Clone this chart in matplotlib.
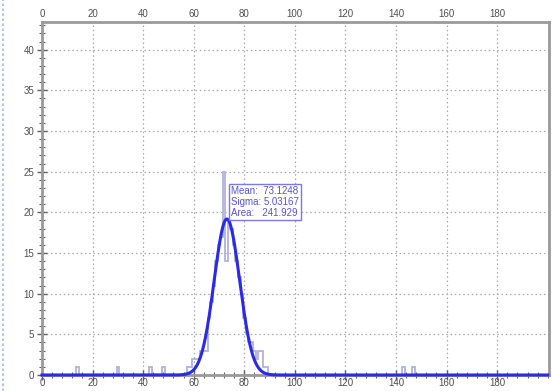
import numpy as np
import matplotlib
matplotlib.use("Agg")
import matplotlib.pyplot as plt
from matplotlib.ticker import MultipleLocator
from matplotlib.lines import Line2D

plt.rcParams['font.family'] = ['Liberation Sans', 'DejaVu Sans']

# Histogram (bin width 1, centred on integers) – non-empty bins
bin_centers = [14, 30, 43, 48, 58, 59, 60, 61, 62, 63, 64, 65, 66, 67, 68, 69, 70, 71,
               72, 73, 74, 75, 76, 77, 78, 79, 80, 81, 82, 83, 84, 85, 86, 87, 88, 89,
               143, 147]
bin_counts = [1, 1, 1, 1, 1, 1, 2, 2, 2, 3, 3, 3, 7, 9, 11, 14, 16, 17,
              25, 14, 19, 18, 16, 14, 12, 10, 7, 5, 4, 4, 3, 2, 3, 3, 1, 1,
              1, 1]

# Gaussian fit parameters
fit_mean = 73.1248
fit_sigma = 5.03167
fit_area = 241.929

x_ticks = [0, 20, 40, 60, 80, 100, 120, 140, 160, 180]
y_ticks = [0, 5, 10, 15, 20, 25, 30, 35, 40]

fig = plt.figure(figsize=(5.52, 3.91), dpi=100)
ax = fig.add_axes([42/552, 1-375/391, (549-42)/552, (375-22)/391])

edges = np.arange(-0.5, 201.5, 1.0)
counts = np.zeros(len(edges) - 1)
for c, n in zip(bin_centers, bin_counts):
    counts[int(c)] = n
ax.stairs(counts, edges, color='#b2b2d8', lw=1.3, zorder=2)

xs = np.linspace(0, 200, 3000)
amp = fit_area / (fit_sigma * np.sqrt(2 * np.pi))
ys = amp * np.exp(-0.5 * ((xs - fit_mean) / fit_sigma) ** 2)
ax.plot(xs, ys, color='#2a2ae8', lw=2.2, zorder=3, clip_on=False)

ax.text(74.8, 23.2, "Mean:  73.1248\nSigma: 5.03167\nArea:   241.929",
        fontsize=7, color='#5555cc', va='top', ha='left', linespacing=1.1,
        bbox=dict(boxstyle='square,pad=0.2', fc='white', ec='#7a7ae0', lw=1.0),
        zorder=4)

ax.set_xlim(0, 200.5)
ax.set_ylim(0, 43.4)
ax.set_xticks(x_ticks)
ax.set_yticks(y_ticks)
ax.xaxis.set_minor_locator(MultipleLocator(4))
ax.yaxis.set_minor_locator(MultipleLocator(1))

ax.grid(True, which='major', ls=(0, (1.2, 2.2)), color='#a8a8a8', lw=0.9)
for s in ax.spines.values():
    s.set_color('#9a9a9a')
    s.set_linewidth(2.0)

ax.tick_params(axis='both', which='major', labelsize=7, labelcolor='#505050',
               color='#606060', direction='inout', length=7, width=1)
ax.tick_params(axis='both', which='minor', color='#606060',
               direction='inout', length=4, width=0.8)
ax.tick_params(axis='x', which='both', top=False, labeltop=False, pad=-1)
ax.tick_params(axis='y', which='both', right=False, pad=2)

top = ax.secondary_xaxis('top')
top.set_xticks(x_ticks)
top.tick_params(axis='x', which='both', length=0, labelsize=7,
                labelcolor='#505050', pad=2.5)
top.spines['top'].set_visible(False)

fig.add_artist(Line2D([3/552, 3/552], [0, 1], color='#a8b8e8', lw=1.2,
                      ls=(0, (1.5, 1.5)), transform=fig.transFigure))

fig.savefig('out.png', dpi=100)
